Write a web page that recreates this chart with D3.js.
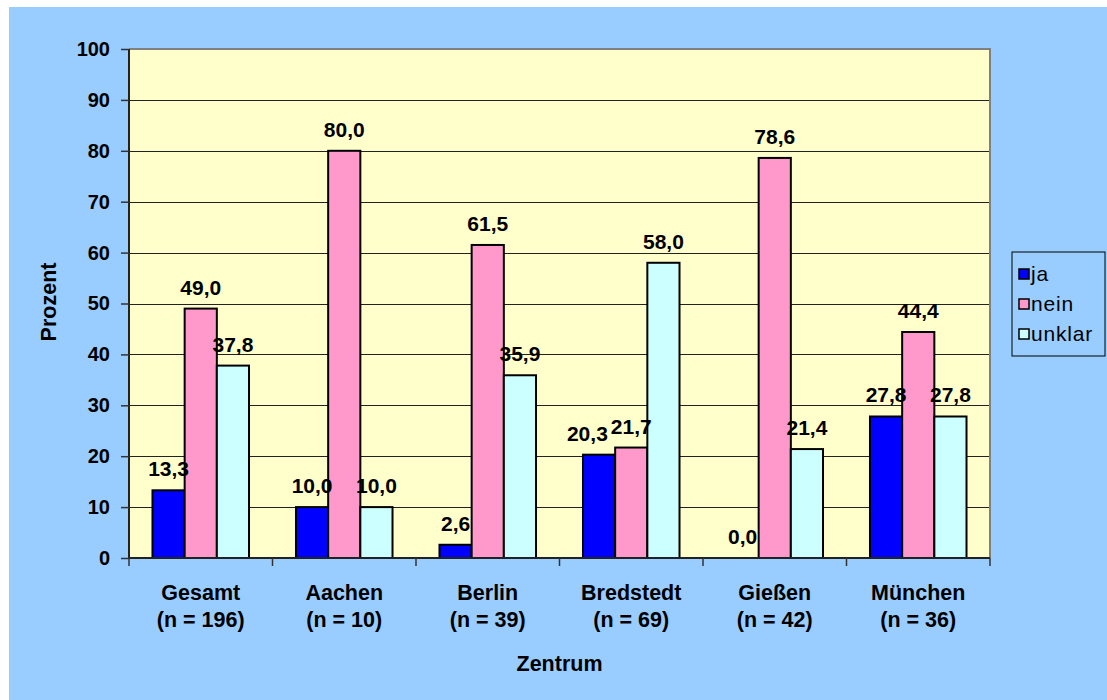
<!DOCTYPE html>
<html>
<head>
<meta charset="utf-8">
<script src="https://cdn.jsdelivr.net/npm/d3@7"></script>
<style>
  html, body { margin: 0; padding: 0; background: #fff; }
  svg { display: block; font-family: "Liberation Sans", Arial, sans-serif; }
</style>
</head>
<body>
<div id="chart"></div>
<script>
const categories = ["Gesamt", "Aachen", "Berlin", "Bredstedt", "Gießen", "München"];
const counts = [196, 10, 39, 69, 42, 36];
const seriesNames = ["ja", "nein", "unklar"];
const ja = [13.3, 10.0, 2.6, 20.3, 0.0, 27.8];
const nein = [49.0, 80.0, 61.5, 21.7, 78.6, 44.4];
const unklar = [37.8, 10.0, 35.9, 58.0, 21.4, 27.8];
const yTicks = [0, 10, 20, 30, 40, 50, 60, 70, 80, 90, 100];
const colors = ["#0000FF", "#FF99CC", "#CCFFFF"];

const seriesValues = [ja, nein, unklar];
const data = categories.map((c, i) => ({
  category: c,
  n: counts[i],
  values: seriesNames.map((s, j) => ({ series: s, value: seriesValues[j][i] })),
}));

const W = 1107, H = 700;
const margin = { top: 49, right: 117, bottom: 142, left: 129 };
const width = W - margin.left - margin.right;
const height = H - margin.top - margin.bottom;

const labelSize = 21;
const fmt = (v) => v.toFixed(1).replace(".", ",");

const svg = d3.select("#chart").append("svg").attr("width", W).attr("height", H);

// chart background
svg.append("rect").attr("x", 9).attr("y", 7).attr("width", W - 9).attr("height", H - 7)
  .attr("fill", "#99CCFF");

const g = svg.append("g").attr("transform", `translate(${margin.left},${margin.top})`);

const x0 = d3.scaleBand().domain(categories).range([0, width]);
const x1 = d3.scaleBand().domain(seriesNames).range([0, x0.bandwidth()]).paddingOuter(0.73);
const y = d3.scaleLinear().domain([0, 100]).range([height, 0]);
const color = d3.scaleOrdinal().domain(seriesNames).range(colors);

// plot area
g.append("rect").attr("width", width).attr("height", height).attr("fill", "#FFFFCC");

// gridlines
g.append("g")
  .selectAll("line")
  .data(yTicks.filter((d) => d > 0 && d < 100))
  .join("line")
  .attr("x1", 0).attr("x2", width)
  .attr("y1", (d) => Math.round(y(d)) + 0.5).attr("y2", (d) => Math.round(y(d)) + 0.5)
  .attr("stroke", "#222").attr("stroke-width", 1);

// top / right border
g.append("path")
  .attr("d", `M0,0H${width}V${height}`)
  .attr("fill", "none").attr("stroke", "#808080").attr("stroke-width", 2);

// bars
const groups = g.append("g")
  .selectAll("g")
  .data(data)
  .join("g")
  .attr("transform", (d) => `translate(${x0(d.category)},0)`);

groups.selectAll("rect")
  .data((d) => d.values)
  .join("rect")
  .attr("x", (d) => x1(d.series))
  .attr("width", x1.bandwidth())
  .attr("y", (d) => y(d.value))
  .attr("height", (d) => y(0) - y(d.value))
  .attr("fill", (d) => color(d.series))
  .attr("stroke", "#000")
  .attr("stroke-width", (d) => (d.value > 0 ? 2 : 0));

// value labels, nudged sideways when neighbours collide
const labels = groups.selectAll("text")
  .data((d) => d.values)
  .join("text")
  .attr("x", (d) => x1(d.series) + x1.bandwidth() / 2)
  .attr("y", (d) => y(d.value) - 14)
  .attr("text-anchor", "middle")
  .attr("font-size", labelSize)
  .attr("font-weight", "bold")
  .text((d) => fmt(d.value));

groups.each(function () {
  const t = d3.select(this).selectAll("text").nodes();
  const box = t.map((n) => ({ x: +n.getAttribute("x"), y: +n.getAttribute("y"), w: n.getComputedTextLength() }));
  for (let i = 0; i < box.length - 1; i++) {
    const a = box[i], b = box[i + 1];
    if (Math.abs(a.y - b.y) >= labelSize * 0.8) continue;
    const ov = (a.x + a.w / 2) - (b.x - b.w / 2) + 3;
    if (ov <= 0) continue;
    if (i === 0) a.x -= ov; else b.x += ov;
  }
  t.forEach((n, i) => n.setAttribute("x", box[i].x));
});

// y axis
const yAxis = g.append("g")
  .call(d3.axisLeft(y).tickValues(yTicks).tickSize(8).tickPadding(11))
  .call((a) => a.select(".domain").attr("stroke", "#222").attr("stroke-width", 2).attr("d", `M0,0V${height}`));
yAxis.selectAll(".tick line").attr("stroke", "#333").attr("stroke-width", 1.5);
yAxis.selectAll(".tick text")
  .attr("font-size", 20).attr("font-weight", "bold").attr("fill", "#000")
  .attr("font-family", "Liberation Sans, Arial, sans-serif");

// x axis
const xAxis = g.append("g").attr("transform", `translate(0,${height})`);
xAxis.append("line").attr("x1", 0).attr("x2", width)
  .attr("stroke", "#222").attr("stroke-width", 2);
xAxis.selectAll("line.tk")
  .data(categories.concat(["__end"]))
  .join("line")
  .attr("class", "tk")
  .attr("x1", (d, i) => (i < categories.length ? x0(d) : width))
  .attr("x2", (d, i) => (i < categories.length ? x0(d) : width))
  .attr("y1", 0).attr("y2", 8)
  .attr("stroke", "#333").attr("stroke-width", 1.5);

const catLabels = xAxis.selectAll("text.cat")
  .data(data)
  .join("text")
  .attr("class", "cat")
  .attr("text-anchor", "middle")
  .attr("font-size", 21.5)
  .attr("font-weight", "bold");
catLabels.append("tspan")
  .attr("x", (d) => x0(d.category) + x0.bandwidth() / 2)
  .attr("y", 42)
  .text((d) => d.category);
catLabels.append("tspan")
  .attr("x", (d) => x0(d.category) + x0.bandwidth() / 2)
  .attr("y", 69)
  .text((d) => `(n = ${d.n})`);

// axis titles
svg.append("text")
  .attr("x", margin.left + width / 2)
  .attr("y", 671)
  .attr("text-anchor", "middle")
  .attr("font-size", 21.5)
  .attr("font-weight", "bold")
  .text("Zentrum");

svg.append("text")
  .attr("transform", "translate(56,302) rotate(-90)")
  .attr("text-anchor", "middle")
  .attr("font-size", 21.5)
  .attr("font-weight", "bold")
  .text("Prozent");

// legend
const legend = svg.append("g").attr("transform", "translate(1012,252)");
legend.append("rect").attr("width", 93).attr("height", 104)
  .attr("fill", "none").attr("stroke", "#000").attr("stroke-width", 1);
const item = legend.selectAll("g")
  .data(seriesNames)
  .join("g")
  .attr("transform", (d, i) => `translate(7,${22 + i * 30})`);
item.append("rect")
  .attr("y", -5).attr("width", 10).attr("height", 10)
  .attr("fill", (d) => color(d)).attr("stroke", "#000").attr("stroke-width", 1.5);
item.append("text")
  .attr("x", 12).attr("dy", "0.35em")
  .attr("font-size", 21)
  .attr("letter-spacing", 0.8)
  .text((d) => d);
</script>
</body>
</html>
